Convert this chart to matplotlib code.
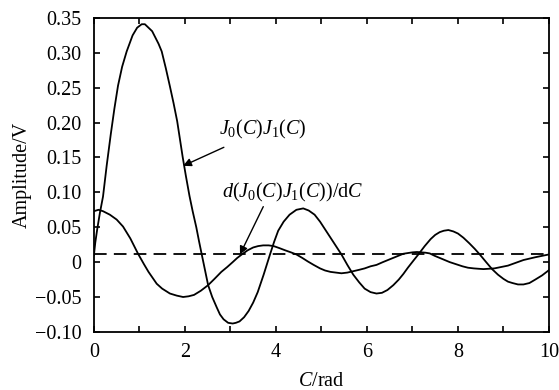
import matplotlib
matplotlib.use("Agg")
import matplotlib.pyplot as plt

plt.rcParams["font.family"] = ["Liberation Serif", "DejaVu Serif"]
plt.rcParams["mathtext.fontset"] = "custom"
plt.rcParams["mathtext.rm"] = "Liberation Serif"
plt.rcParams["mathtext.it"] = "Liberation Serif:italic"

# J0(C)J1(C)
c_prod = [0.0, 0.03, 0.07, 0.13, 0.2, 0.28, 0.37, 0.45, 0.53, 0.62, 0.72, 0.85,
          0.95, 1.05, 1.12, 1.2, 1.28, 1.35, 1.42, 1.49, 1.58, 1.67, 1.75,
          1.83, 1.95, 2.02, 2.1, 2.17, 2.25, 2.31, 2.37, 2.44, 2.51, 2.6, 2.7,
          2.77, 2.85, 2.95, 3.05, 3.12, 3.2, 3.3, 3.4, 3.5, 3.6, 3.73, 3.87,
          3.96, 4.05, 4.17, 4.3, 4.45, 4.6, 4.72, 4.85, 4.97, 5.1, 5.27, 5.44,
          5.57, 5.7, 5.83, 5.95, 6.08, 6.21, 6.33, 6.45, 6.58, 6.7, 6.8, 6.9,
          7.02, 7.13, 7.27, 7.4, 7.5, 7.6, 7.69, 7.79, 7.9, 8.0, 8.12, 8.25,
          8.37, 8.48, 8.62, 8.75, 8.88, 9.0, 9.1, 9.2, 9.32, 9.44, 9.57, 9.7,
          9.85, 10.0]
v_prod = [0.010, 0.028, 0.046, 0.070, 0.094, 0.138, 0.183, 0.220, 0.253, 0.280,
          0.302, 0.325, 0.336, 0.341, 0.341, 0.336, 0.331, 0.322, 0.313, 0.302,
          0.278, 0.252, 0.228, 0.202, 0.151, 0.124, 0.095, 0.073, 0.050, 0.030,
          0.011, -0.011, -0.033, -0.050, -0.065, -0.075, -0.082, -0.087, -0.088,
          -0.087, -0.085, -0.079, -0.070, -0.058, -0.043, -0.018, 0.011, 0.029,
          0.045, 0.058, 0.068, 0.075, 0.077, 0.074, 0.068, 0.058, 0.045, 0.028,
          0.011, -0.004, -0.018, -0.029, -0.038, -0.043, -0.045, -0.044,
          -0.040, -0.033, -0.025, -0.017, -0.008, 0.002, 0.011, 0.023, 0.033,
          0.039, 0.043, 0.045, 0.046, 0.044, 0.041, 0.035, 0.027, 0.019, 0.011,
          0.0, -0.010, -0.018, -0.024, -0.028, -0.030, -0.032, -0.032, -0.030,
          -0.025, -0.019, -0.0115]

# d(J0(C)J1(C))/dC
c_deriv = [0.0, 0.1, 0.2, 0.35, 0.5, 0.64, 0.8, 0.97, 1.1, 1.2, 1.38, 1.5,
           1.67, 1.82, 1.96, 2.08, 2.2, 2.35, 2.51, 2.65, 2.8, 2.93, 3.05,
           3.15, 3.25, 3.38, 3.5, 3.61, 3.72, 3.84, 3.95, 4.08, 4.2, 4.33,
           4.45, 4.58, 4.7, 4.83, 4.97, 5.08, 5.2, 5.32, 5.44, 5.57, 5.7,
           5.83, 5.95, 6.08, 6.21, 6.35, 6.5, 6.65, 6.8, 6.9, 7.0, 7.1, 7.2,
           7.29, 7.38, 7.49, 7.6, 7.71, 7.82, 7.96, 8.1, 8.22, 8.35, 8.45,
           8.56, 8.68, 8.8, 8.95, 9.1, 9.27, 9.44, 9.57, 9.7, 9.85, 10.0]
v_deriv = [0.073, 0.075, 0.073, 0.068, 0.061, 0.051, 0.034, 0.012, -0.003,
           -0.014, -0.031, -0.038, -0.045, -0.048, -0.050, -0.049, -0.047,
           -0.041, -0.033, -0.024, -0.014, -0.007, 0.0, 0.006, 0.011, 0.017,
           0.021, 0.023, 0.024, 0.024, 0.023, 0.020, 0.017, 0.014, 0.011,
           0.006, 0.001, -0.004, -0.009, -0.012, -0.014, -0.015, -0.016,
           -0.015, -0.013, -0.011, -0.009, -0.006, -0.004, 0.0, 0.004, 0.008,
           0.012, 0.013, 0.014, 0.0145, 0.014, 0.0135, 0.0125, 0.009, 0.006,
           0.003, 0.0, -0.003, -0.006, -0.008, -0.009, -0.0095, -0.010,
           -0.0095, -0.009, -0.007, -0.005, -0.001, 0.003, 0.005, 0.007, 0.009,
           0.011]

ref_level = 0.011

y_ticks = [-0.10, -0.05, 0, 0.05, 0.10, 0.15, 0.20, 0.25, 0.30, 0.35]
y_labels = ["\u22120.10", "\u22120.05", "0", "0.05", "0.10", "0.15", "0.20",
            "0.25", "0.30", "0.35"]
x_ticks = list(range(0, 11))
x_labels = [str(t) if t % 2 == 0 else "" for t in x_ticks]

fig = plt.figure(figsize=(5.59, 3.90), dpi=100)
ax = fig.add_axes([0.168, 0.149, 0.814, 0.805])

ax.plot(c_prod, v_prod, color="black", lw=1.3)
ax.plot(c_deriv, v_deriv, color="black", lw=1.3)
ax.axhline(ref_level, color="black", lw=1.3, linestyle=(0, (7, 4)))

ax.set_xlim(0, 10)
ax.set_ylim(-0.10, 0.35)
ax.set_xticks(x_ticks)
ax.set_xticklabels(x_labels)
ax.set_yticks(y_ticks)
ax.set_yticklabels(y_labels)
ax.tick_params(direction="in", top=True, right=True, length=4, width=1.2,
               labelsize=14.5)
ax.tick_params(axis="y", pad=9)
ax.tick_params(axis="x", pad=8)
for s in ax.spines.values():
    s.set_linewidth(1.3)

ax.set_ylabel("Amplitude/V", fontsize=14.5, labelpad=2)
ax.set_xlabel("$C$/rad", fontsize=14.5, labelpad=7)

ax.annotate("$J_0(C)J_1(C)$", xy=(1.96, 0.138), xytext=(2.75, 0.19),
            fontsize=14.5, va="center", ha="left",
            arrowprops=dict(arrowstyle="-|>", color="black", lw=1.0,
                            mutation_scale=12, shrinkA=6, shrinkB=0))
ax.annotate(r"$d(J_0(C)J_1(C))/\mathrm{d}C$", xy=(3.21, 0.011),
            xytext=(2.82, 0.10), fontsize=14.5, va="center", ha="left",
            arrowprops=dict(arrowstyle="-|>", color="black", lw=1.0,
                            mutation_scale=12, shrinkA=0, shrinkB=0,
                            relpos=(0.3, 0.0)))

fig.savefig("out.png", dpi=100)
